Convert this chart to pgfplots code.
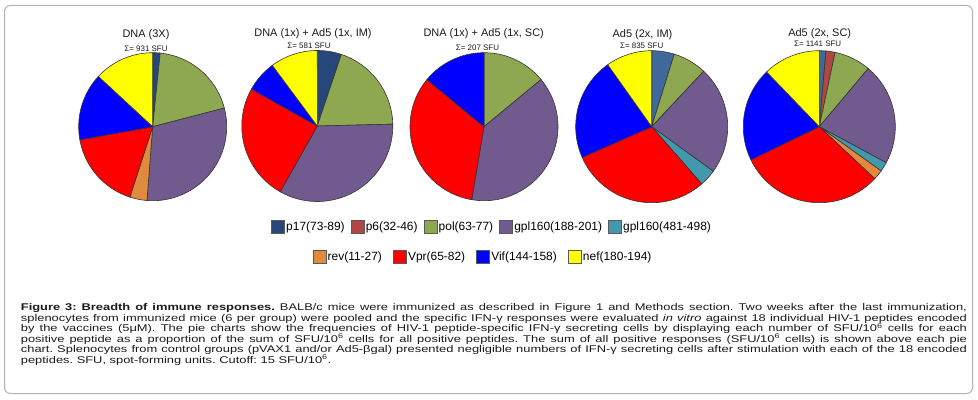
\documentclass[border=0pt]{standalone}
\usepackage{fontspec}
\setmainfont{Liberation Sans}
\newfontfamily\capfont{Liberation Sans}[FakeStretch=1.32]
\usepackage{pgfplots}
\pgfplotsset{compat=1.18}
\definecolor{p17a}{HTML}{27477B}
\definecolor{p17b}{HTML}{41689D}
\definecolor{p6c}{HTML}{B04743}
\definecolor{polc}{HTML}{8DA851}
\definecolor{gpa}{HTML}{705A8E}
\definecolor{gpb}{HTML}{4398AE}
\definecolor{revc}{HTML}{E08A3E}
\definecolor{vprc}{HTML}{FF0000}
\definecolor{vifc}{HTML}{0000FF}
\definecolor{nefc}{HTML}{FFFF00}
\definecolor{slice}{HTML}{353535}
\definecolor{txt}{HTML}{1A1A1A}

% #1 cx, #2 cy, #3 radius, #4 total, #5 list value/colour (clockwise from 12 o'clock)
\newcommand\pie[5]{%
  \gdef\cumsum{0}%
  \foreach \v/\c in {#5} {%
    \pgfmathsetmacro\aS{90-\cumsum*(360/#4)}%
    \pgfmathsetmacro\newcum{\cumsum+\v}%
    \pgfmathsetmacro\aE{90-\newcum*(360/#4)}%
    \global\let\cumsum\newcum
    \edef\tmp{\noexpand\addplot[forget plot, fill=\c, draw=slice, line width=0.6bp,
      domain=\aE:\aS, samples=60, variable=\noexpand\t]
      ({#1+#3*cos(\noexpand\t)},{#2+#3*sin(\noexpand\t)}) -- (axis cs:#1,#2) -- cycle;}%
    \tmp
  }%
}

\pgfplotsset{
  legsq/.style={legend image code/.code={\draw[##1, draw=black!65, line width=0.6bp] (0bp,-6.5bp) rectangle (13bp,6.5bp);}},
}

\begin{document}
\begin{tikzpicture}[x=1bp,y=1bp]
\path (0,0) rectangle (978,399);
\draw[black!30, line width=1bp, rounded corners=6bp] (4.5,5.5) rectangle (972.5,393.5);

\begin{axis}[
  at={(0,0)}, anchor=south west, x=1bp, y=1bp,
  xmin=0, xmax=978, ymin=0, ymax=399,
  hide axis, clip=false, legsq,
  legend columns=5,
  legend style={at={(0.50256,0.43183)}, anchor=center, draw=none, fill=none,
    font=\fontsize{12}{14}\selectfont, column sep=0.5bp,
    /tikz/every even column/.append style={column sep=5bp},
    nodes={inner xsep=1bp, inner ysep=1bp}},
  legend cell align=left,
]
\pie{152.7}{272.3}{74}{931}{15/p17a,180/polc,282/gpa,35/revc,160/vprc,137/vifc,122/nefc}
\pie{317.3}{273}{75.5}{581}{30/p17a,113/polc,195/gpa,145/vprc,39/vifc,59/nefc}
\pie{484}{272.3}{74}{207}{29/polc,80/gpa,69/vprc,29/vifc}
\pie{651.7}{272.3}{76}{835}{40/p17b,60/polc,192/gpa,30/gpb,249/vprc,182/vifc,82/nefc}
\pie{819.3}{272.3}{76}{1141}{16/p17b,22/p6c,89/polc,248/gpa,23/gpb,24/revc,352/vprc,228/vifc,139/nefc}
\addlegendimage{fill=p17a}\addlegendentry{p17(73-89)}
\addlegendimage{fill=p6c}\addlegendentry{p6(32-46)}
\addlegendimage{fill=polc}\addlegendentry{pol(63-77)}
\addlegendimage{fill=gpa}\addlegendentry{gpl160(188-201)}
\addlegendimage{fill=gpb}\addlegendentry{gpl160(481-498)}
\end{axis}

\begin{axis}[
  at={(0,0)}, anchor=south west, x=1bp, y=1bp,
  xmin=0, xmax=978, ymin=0, ymax=399,
  hide axis, clip=false, legsq,
  legend columns=4,
  legend style={at={(0.49335,0.35664)}, anchor=center, draw=none, fill=none,
    font=\fontsize{12}{14}\selectfont, column sep=0.5bp,
    /tikz/every even column/.append style={column sep=10bp},
    nodes={inner xsep=1bp, inner ysep=1bp}},
  legend cell align=left,
]
\addlegendimage{fill=revc}\addlegendentry{rev(11-27)}
\addlegendimage{fill=vprc}\addlegendentry{Vpr(65-82)}
\addlegendimage{fill=vifc}\addlegendentry{Vif(144-158)}
\addlegendimage{fill=nefc}\addlegendentry{nef(180-194)}
\end{axis}

\begin{scope}[every node/.style={inner sep=0pt, anchor=base, text=txt}]
\node[font=\fontsize{11}{13}\selectfont] at (146,361.7) {DNA (3X)};
\node[font=\fontsize{8}{10}\selectfont] at (146,348) {Σ= 931 SFU};
\node[font=\fontsize{11}{13}\selectfont] at (313,362.3) {DNA (1x) + Ad5 (1x, IM)};
\node[font=\fontsize{8}{10}\selectfont] at (309,350.7) {Σ= 581 SFU};
\node[font=\fontsize{11}{13}\selectfont] at (483.7,363) {DNA (1x) + Ad5 (1x, SC)};
\node[font=\fontsize{8}{10}\selectfont] at (477.5,348.3) {Σ= 207 SFU};
\node[font=\fontsize{11}{13}\selectfont] at (642.5,361.7) {Ad5 (2x, IM)};
\node[font=\fontsize{8}{10}\selectfont] at (641.7,350.7) {Σ= 835 SFU};
\node[font=\fontsize{11}{13}\selectfont] at (819.7,363) {Ad5 (2x, SC)};
\node[font=\fontsize{8}{10}\selectfont] at (817.7,352.3) {Σ= 1141 SFU};
\end{scope}

\node[anchor=north west, inner sep=0pt, text width=946bp, align=justify, text=txt,
  font=\capfont\fontsize{9.8}{10.5}\selectfont] at (20.7,95.5) {\frenchspacing\hyphenpenalty=10000\exhyphenpenalty=10000
\textbf{Figure 3: Breadth of immune responses.} BALB/c mice were immunized as described in Figure 1 and Methods section. Two weeks after the last immunization,\linebreak
splenocytes from immunized mice (6 per group) were pooled and the specific IFN-γ responses were evaluated \textit{in vitro} against 18 individual HIV-1 peptides encoded\linebreak
by the vaccines (5μM). The pie charts show the frequencies of HIV-1 peptide-specific IFN-γ secreting cells by displaying each number of SFU/10\textsuperscript{6} cells for each\linebreak
positive peptide as a proportion of the sum of SFU/10\textsuperscript{6} cells for all positive peptides. The sum of all positive responses (SFU/10\textsuperscript{6} cells) is shown above each pie\linebreak
chart. Splenocytes from control groups (pVAX1 and/or Ad5-βgal) presented negligible numbers of IFN-γ secreting cells after stimulation with each of the 18 encoded\linebreak
peptides. SFU, spot-forming units. Cutoff: 15 SFU/10\textsuperscript{6}.};
\end{tikzpicture}
\end{document}
